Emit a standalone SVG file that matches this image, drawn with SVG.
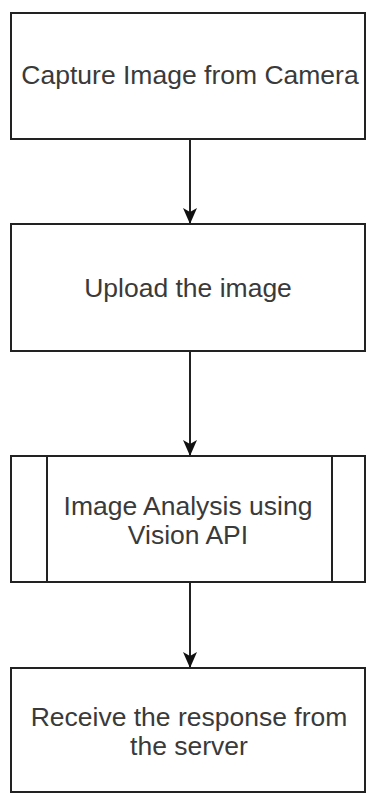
<svg xmlns="http://www.w3.org/2000/svg" width="366" height="794" viewBox="0 0 366 794">
  <style>
    .box { fill: #ffffff; stroke: #222222; stroke-width: 2; }
    .inner { stroke: #222222; stroke-width: 2; }
    .lbl { font-family: "Liberation Sans", Arial, sans-serif; font-size: 26.5px; fill: #3a3a3a; text-anchor: middle; }
    .edge { stroke: #222222; stroke-width: 2; fill: none; marker-end: url(#arrow); }
  </style>
  <defs>
    <marker id="arrow" markerWidth="16" markerHeight="14" refX="15" refY="7" orient="auto" markerUnits="userSpaceOnUse" viewBox="0 0 16 14">
      <path d="M0,0 L16,7 L0,14 L4,7 Z" fill="#111111"/>
    </marker>
  </defs>
  <rect width="366" height="794" fill="#ffffff"/>
  <g id="connectors">
    <line class="edge" x1="190" y1="139" x2="190" y2="223"/>
    <line class="edge" x1="190" y1="351" x2="190" y2="455"/>
    <line class="edge" x1="190" y1="582" x2="190" y2="667"/>
  </g>
  <g id="capture">
    <rect class="box" x="11" y="13" width="354" height="126"/>
    <text class="lbl" x="190" y="84">Capture Image from Camera</text>
  </g>
  <g id="upload">
    <rect class="box" x="11" y="224" width="354" height="127"/>
    <text class="lbl" x="188" y="297">Upload the image</text>
  </g>
  <g id="analysis">
    <rect class="box" x="11" y="456" width="354" height="126"/>
    <line class="inner" x1="47" y1="456" x2="47" y2="582"/>
    <line class="inner" x1="332" y1="456" x2="332" y2="582"/>
    <text class="lbl" x="188" y="515">Image Analysis using</text>
    <text class="lbl" x="188" y="544">Vision API</text>
  </g>
  <g id="receive">
    <rect class="box" x="11" y="668" width="354" height="124"/>
    <text class="lbl" x="189" y="726">Receive the response from</text>
    <text class="lbl" x="189" y="755">the server</text>
  </g>
</svg>
